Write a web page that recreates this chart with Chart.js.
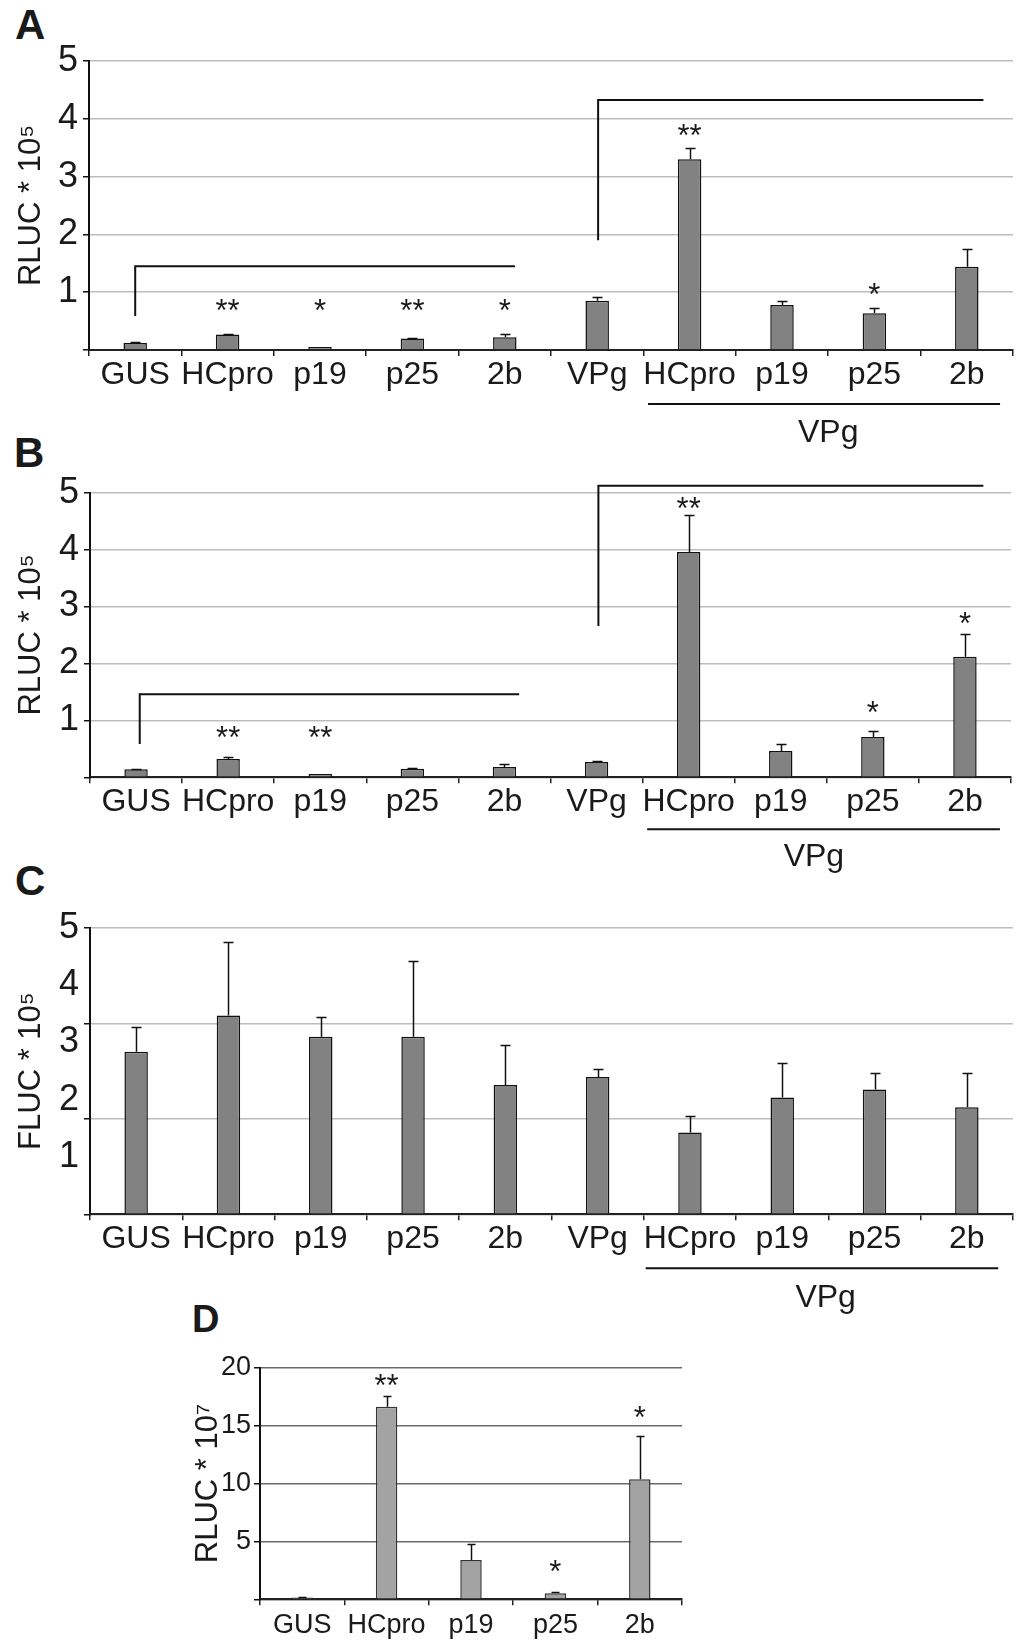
<!DOCTYPE html>
<html><head><meta charset="utf-8">
<script src="https://cdn.jsdelivr.net/npm/chart.js@4/dist/chart.umd.min.js"></script>
<style>
html,body{margin:0;padding:0;background:#fff}
body{width:1027px;height:1644px;position:relative;overflow:hidden;font-family:'Liberation Sans',Arial,sans-serif}
canvas.c{position:absolute;left:0}
.lbl{position:absolute;font-weight:bold;line-height:1;color:#1a1a1a;font-family:'Liberation Sans',Arial,sans-serif}
</style></head><body>
<div class="lbl" style="left:15px;top:4px;font-size:42px">A</div>
<div class="lbl" style="left:14px;top:432px;font-size:42px">B</div>
<div class="lbl" style="left:15px;top:860px;font-size:42px">C</div>
<div class="lbl" style="left:192px;top:1300px;font-size:38px">D</div>
<canvas class="c" id="cA" width="1027" height="455" style="top:0px"></canvas>
<canvas class="c" id="cB" width="1027" height="445" style="top:430px"></canvas>
<canvas class="c" id="cC" width="1027" height="460" style="top:860px"></canvas>
<canvas class="c" id="cD" width="1027" height="354" style="top:1290px"></canvas>
<script>
// ---------- data ----------
const categoriesABC = ['GUS','HCpro','p19','p25','2b','VPg','HCpro','p19','p25','2b'];
const categoriesD = ['GUS','HCpro','p19','p25','2b'];

const valuesA = [0.12,0.27,0.05,0.20,0.22,0.85,3.30,0.78,0.635,1.44];
const errorsA = [0.02,0.01,0.00,0.01,0.05,0.07,0.19,0.06,0.085,0.30];
const starsA  = ['','**','*','**','*','','**','','*',''];
const starYA  = [null,0.81,0.81,0.81,0.81,null,3.84,null,1.09,null];

const valuesB = [0.14,0.32,0.06,0.15,0.18,0.27,3.96,0.46,0.71,2.12];
const errorsB = [0.01,0.04,0.00,0.02,0.05,0.02,0.65,0.13,0.10,0.40];
const starsB  = ['','**','**','','','','**','','*','*'];
const starYB  = [null,0.83,0.83,null,null,null,4.86,null,1.27,2.83];

const valuesC = [2.84,3.47,3.10,3.10,2.26,2.40,1.43,2.04,2.18,1.87];
const errorsC = [0.43,1.28,0.34,1.32,0.70,0.13,0.28,0.60,0.28,0.59];

const valuesD = [0.15,16.63,3.39,0.52,10.36];
const errorsD = [0.03,0.95,1.36,0.14,3.77];
const starsD  = ['','**','','*','*'];
const starYD  = [null,19.1,null,3.05,16.35];

const yTickLabelsAB = [1,2,3,4,5];
const yTickLabelsC = [1,2,3,4,5];
const yGridC = [0,1.667,3.333,5];
const yTickLabelsD = [5,10,15,20];

// brackets: category index (fractional) and value levels
const bracketsA = [{from:0.0,to:4.11,low:0.59,high:1.45},{from:5.01,to:9.18,low:1.90,high:4.325}];
const bracketsB = [{from:0.04,to:4.16,low:0.585,high:1.46},{from:5.02,to:9.2,low:2.66,high:5.12}];
const groupA = {from:5.55,to:9.36,label:'VPg',at:7.5};
const groupB = {from:5.55,to:9.38,label:'VPg',at:7.36};
const groupC = {from:5.52,to:9.34,label:'VPg',at:7.47};

// ---------- drawing ----------
const FAM = "'Liberation Sans', Arial, sans-serif";
const TXT = '#1a1a1a';

const annot = {
  id:'annot',
  afterDatasetsDraw(chart, args, o){
    const ctx = chart.ctx, xs = chart.scales.x, ys = chart.scales.y;
    const meta = chart.getDatasetMeta(0);
    ctx.save();
    ctx.strokeStyle = o.errColor; ctx.lineWidth = 1.5;
    o.values.forEach((v,i)=>{
      const e = o.errors[i]; if(!e) return;
      const bx = Math.round(meta.data[i].x)+0.5;
      const y0 = ys.getPixelForValue(v), y1 = Math.round(ys.getPixelForValue(v+e))+0.5;
      ctx.beginPath(); ctx.moveTo(bx,y0); ctx.lineTo(bx,y1);
      ctx.moveTo(bx-o.cap,y1); ctx.lineTo(bx+o.cap,y1); ctx.stroke();
    });
    if (o.stars){
      ctx.fillStyle = TXT; ctx.font = o.starFont; ctx.textAlign='center'; ctx.textBaseline='alphabetic';
      o.stars.forEach((s,i)=>{
        if(!s) return;
        ctx.fillText(s, xs.getPixelForValue(i), ys.getPixelForValue(o.starY[i]) + o.starShift);
      });
    }
    if (o.brackets){
      ctx.strokeStyle='#111'; ctx.lineWidth=2;
      o.brackets.forEach(b=>{
        const x0=xs.getPixelForValue(b.from), x1=xs.getPixelForValue(b.to);
        const yl=ys.getPixelForValue(b.low), yh=ys.getPixelForValue(b.high);
        ctx.beginPath(); ctx.moveTo(x0,yl); ctx.lineTo(x0,yh); ctx.lineTo(x1,yh); ctx.stroke();
      });
    }
    if (o.group){
      const g=o.group, base=chart.chartArea.bottom;
      ctx.strokeStyle='#111'; ctx.lineWidth=2;
      ctx.beginPath();
      ctx.moveTo(xs.getPixelForValue(g.from), base+o.groupLine);
      ctx.lineTo(xs.getPixelForValue(g.to), base+o.groupLine); ctx.stroke();
      ctx.fillStyle=TXT; ctx.font=o.labelFont; ctx.textAlign='center'; ctx.textBaseline='middle';
      ctx.fillText(g.label, xs.getPixelForValue(g.at), base+o.groupText);
    }
    ctx.restore();
  }
};

function makeChart(id, cfg){
  const yScale = {
    position:'left',
    min:0, max:cfg.max,
    afterFit: s => { s.width = cfg.yWidth; },
    afterBuildTicks: s => { s.ticks = cfg.yTicks.map(v=>({value:v})); },
    ticks:{autoSkip:false, color:TXT, font:{family:FAM, size:cfg.yFont}, padding:cfg.yPad,
      callback: v => cfg.yLabels.includes(v) ? String(v) : ''},
    grid:{
      color: c => (c.tick && cfg.yGrid.includes(c.tick.value)) ? cfg.gridColor : 'rgba(0,0,0,0)',
      tickColor: c => (c.tick && cfg.yGrid.includes(c.tick.value)) ? '#111' : 'rgba(0,0,0,0)',
      lineWidth: cfg.gridWidth, tickLength:6},
    border:{display:true,color:'#111',width:2},
    title:{display:true,text:cfg.title,color:TXT,font:{family:FAM,size:31},padding:{top:cfg.titlePad,bottom:0}}
  };
  return new Chart(document.getElementById(id), {
    type:'bar',
    data:{labels:cfg.labels, datasets:[{data:cfg.values, backgroundColor:cfg.barColor, borderColor:cfg.barBorder, borderWidth:1.5,
      barPercentage:0.254, categoryPercentage:1}]},
    options:{
      responsive:false, animation:false, devicePixelRatio:1,
      layout:{padding:{left:cfg.padL, right:cfg.padR, top:cfg.padT, bottom:0}},
      plugins:{legend:{display:false}, tooltip:{enabled:false},
        annot:{values:cfg.values, errors:cfg.errors, errColor:'#111', cap:cfg.cap,
          stars:cfg.stars, starY:cfg.starY, starFont:`31px ${FAM}`, starShift:18,
          brackets:cfg.brackets, group:cfg.group, groupLine:cfg.groupLine, groupText:cfg.groupText, labelFont:`32px ${FAM}`}},
      scales:{
        x:{
          afterFit: s => { s.height = cfg.xHeight; },
          ticks:{color:TXT, font:{family:FAM, size:cfg.xFont}, padding:cfg.xPad, maxRotation:0, autoSkip:false},
          grid:{display:true, drawOnChartArea:false, offset:true, tickLength:6, tickColor:'#222', lineWidth:1.5},
          border:{display:true,color:'#222',width:2}
        },
        y: yScale
      }
    },
    plugins:[annot]
  });
}

makeChart('cA', {labels:categoriesABC, values:valuesA, errors:errorsA, stars:starsA, starY:starYA,
  brackets:bracketsA, group:groupA, groupLine:54, groupText:83,
  max:5, yTicks:[0,1,2,3,4,5], yLabels:yTickLabelsAB, yGrid:[0,1,2,3,4,5], gridColor:'#bdbdbd', gridWidth:1.5,
  yWidth:89, padL:0, padR:14, padT:61, xHeight:105, yFont:36, xFont:32, yPad:5, xPad:0,
  title:'RLUC * 10\u2075', titlePad:13, barColor:'#828282', barBorder:'#111', cap:5});

makeChart('cB', {labels:categoriesABC, values:valuesB, errors:errorsB, stars:starsB, starY:starYB,
  brackets:bracketsB, group:groupB, groupLine:52, groupText:80,
  max:5, yTicks:[0,1,2,3,4,5], yLabels:yTickLabelsAB, yGrid:[0,1,2,3,4,5], gridColor:'#bdbdbd', gridWidth:1.5,
  yWidth:90, padL:0, padR:16, padT:62.7, xHeight:97.7, yFont:36, xFont:32, yPad:5, xPad:0,
  title:'RLUC * 10\u2075', titlePad:13, barColor:'#828282', barBorder:'#111', cap:5});

makeChart('cC', {labels:categoriesABC, values:valuesC, errors:errorsC, stars:null, starY:null,
  brackets:null, group:groupC, groupLine:54, groupText:84,
  max:5, yTicks:[...new Set([...yGridC, ...yTickLabelsC])].sort((a,b)=>a-b), yLabels:yTickLabelsC, yGrid:yGridC, gridColor:'#bdbdbd', gridWidth:1.5,
  yWidth:90, padL:0, padR:14, padT:68, xHeight:105.7, yFont:36, xFont:32, yPad:5, xPad:0,
  title:'FLUC * 10\u2075', titlePad:13, barColor:'#828282', barBorder:'#111', cap:5});

makeChart('cD', {labels:categoriesD, values:valuesD, errors:errorsD, stars:starsD, starY:starYD,
  brackets:null, group:null, groupLine:0, groupText:0,
  max:20, yTicks:[0,5,10,15,20], yLabels:yTickLabelsD, yGrid:[0,5,10,15,20], gridColor:'#6a6a6a', gridWidth:1.5,
  yWidth:70, padL:190, padR:345, padT:77.7, xHeight:44.7, yFont:27, xFont:27, yPad:3, xPad:4,
  title:'RLUC * 10\u2077', titlePad:0, barColor:'#a3a3a3', barBorder:'#333', cap:4});
</script>
</body></html>
